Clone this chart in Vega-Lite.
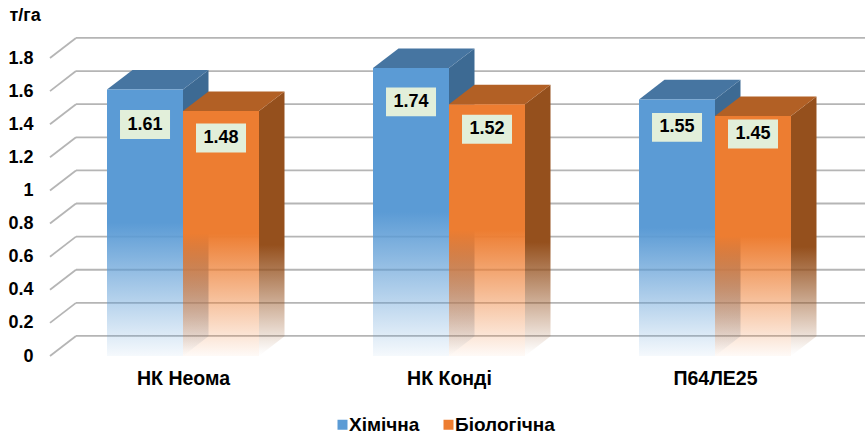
{
"$schema":"https://vega.github.io/schema/vega-lite/v6.json",
"width":865,"height":434,"autosize":"none","padding":0,"background":"white",
"config":{"view":{"stroke":null},"font":"Liberation Sans"},
"datasets":{
"bars":[
{"group":"НК Неома","series":"Хімічна","value":1.61},
{"group":"НК Неома","series":"Біологічна","value":1.48},
{"group":"НК Конді","series":"Хімічна","value":1.74},
{"group":"НК Конді","series":"Біологічна","value":1.52},
{"group":"П64ЛЕ25","series":"Хімічна","value":1.55},
{"group":"П64ЛЕ25","series":"Біологічна","value":1.45}],
"ticks":[{"t":0},{"t":0.2},{"t":0.4},{"t":0.6},{"t":0.8},{"t":1},{"t":1.2},{"t":1.4},{"t":1.6},{"t":1.8}]
},
"data":{"name":"bars"},
"transform":[
{"calculate":"indexof(['НК Неома','НК Конді','П64ЛЕ25'],datum.group)","as":"i"},
{"calculate":"datum.i+0.5+(datum.series=='Хімічна'?-0.2857:0)","as":"x0"},
{"calculate":"datum.x0+0.2857","as":"x1"},
{"calculate":"datum.x0+0.1429","as":"lx"},
{"calculate":"datum.value-[[0.212,0.163],[0.205,0.151],[0.169,0.109]][datum.i][datum.series=='Хімічна'?0:1]","as":"ly"},
{"calculate":"datum.lx-0.094","as":"bx0"},
{"calculate":"datum.lx+0.094","as":"bx1"},
{"calculate":"datum.ly-0.0875","as":"by0"},
{"calculate":"datum.ly+0.0875","as":"by1"},
{"calculate":"[0,1]","as":"t"},
{"calculate":"[datum.x0,datum.x0+0.0959,datum.x1,datum.x1+0.0959]","as":"tx"},
{"calculate":"[datum.value,datum.value,datum.value,datum.value+0.118]","as":"tlo"},
{"calculate":"[datum.value,datum.value+0.118,datum.value+0.118,datum.value+0.118]","as":"tup"}
],
"layer":[
{"data":{"name":"ticks"},"transform":[{"calculate":"datum.t+0.121","as":"gy"}],
 "mark":{"type":"rule","color":"#b5b5b5","strokeWidth":1.8},
 "encoding":{
  "x":{"datum":0.0977,"type":"quantitative","scale":{"domain":[0,3],"range":[50,848],"clamp":false},
   "axis":{"title":null,"values":[0.5,1.5,2.5],"labelExpr":"['НК Неома','НК Конді','П64ЛЕ25'][floor(datum.value)]","domain":false,"ticks":false,"grid":false,"offset":-65,"labelPadding":0,"labelFontSize":19.5,"labelFontWeight":"bold","labelColor":"#000000","labelOverlap":false,"labelFlush":false}},
  "x2":{"datum":3.07},
  "y":{"field":"gy","type":"quantitative","scale":{"domain":[0,1.8],"range":[356,58]},
   "axis":{"title":"т/га","titleAngle":0,"titleX":-24,"titleY":24,"titleAlign":"left","titleFontSize":18,"titleFontWeight":"bold","titleColor":"#000000","values":[0,0.2,0.4,0.6,0.8,1,1.2,1.4,1.6,1.8],"format":"~g","domain":false,"ticks":false,"grid":false,"offset":-33,"labelPadding":0,"labelFontSize":18,"labelFontWeight":"bold","labelColor":"#000000","labelOverlap":false,"labelFlush":false}}
 }},
{"data":{"name":"ticks"},
 "transform":[{"calculate":"datum.t+0.121","as":"gy"}],
 "mark":{"type":"rule","color":"#b5b5b5","strokeWidth":1.8},
 "encoding":{
  "x":{"datum":0,"type":"quantitative"},
  "x2":{"datum":0.0977},
  "y":{"field":"t","type":"quantitative"},
  "y2":{"field":"gy"}
 }},
{"transform":[{"filter":"datum.series=='Хімічна'"},{"flatten":["t"]},{"calculate":"datum.x1+datum.t*0.0959","as":"sx"},{"calculate":"datum.value+datum.t*0.118","as":"sy"},{"calculate":"datum.t*0.12","as":"sy0"}],
 "mark":{"type":"area","orient":"vertical","fill":{"gradient":"linear","x1":0,"y1":0,"x2":0,"y2":1,"stops":[{"offset":0,"color":"#3d6a93"},{"offset":0.58,"color":"#3d6a93"},{"offset":0.98,"color":"rgba(61,106,147,0.03)"},{"offset":1,"color":"rgba(61,106,147,0)"}]}},
 "encoding":{"x":{"field":"sx","type":"quantitative"},"y":{"field":"sy","type":"quantitative","stack":null},"y2":{"field":"sy0"},"detail":{"field":"group"}}},
{"transform":[{"filter":"datum.series=='Хімічна'"},{"flatten":["tx","tlo","tup"]}],
 "mark":{"type":"area","orient":"vertical","fill":"#4675a1"},
 "encoding":{"x":{"field":"tx","type":"quantitative"},"y":{"field":"tup","type":"quantitative","stack":null},"y2":{"field":"tlo"},"detail":{"field":"group"}}},
{"transform":[{"filter":"datum.series=='Хімічна'"}],
 "mark":{"type":"rect","fill":{"gradient":"linear","x1":0,"y1":0,"x2":0,"y2":1,"stops":[{"offset":0,"color":"#5b9bd5"},{"offset":0.5,"color":"#5b9bd5"},{"offset":1,"color":"rgba(91,155,213,0.06)"}]}},
 "encoding":{"x":{"field":"x0","type":"quantitative"},"x2":{"field":"x1"},"y":{"field":"value","type":"quantitative"},"y2":{"datum":0}}},
{"transform":[{"filter":"datum.series=='Біологічна'"},{"flatten":["t"]},{"calculate":"datum.x1+datum.t*0.0959","as":"sx"},{"calculate":"datum.value+datum.t*0.118","as":"sy"},{"calculate":"datum.t*0.12","as":"sy0"}],
 "mark":{"type":"area","orient":"vertical","fill":{"gradient":"linear","x1":0,"y1":0,"x2":0,"y2":1,"stops":[{"offset":0,"color":"#95501d"},{"offset":0.58,"color":"#95501d"},{"offset":0.98,"color":"rgba(149,80,29,0.03)"},{"offset":1,"color":"rgba(149,80,29,0)"}]}},
 "encoding":{"x":{"field":"sx","type":"quantitative"},"y":{"field":"sy","type":"quantitative","stack":null},"y2":{"field":"sy0"},"detail":{"field":"group"}}},
{"transform":[{"filter":"datum.series=='Біологічна'"},{"flatten":["tx","tlo","tup"]}],
 "mark":{"type":"area","orient":"vertical","fill":"#b26025"},
 "encoding":{"x":{"field":"tx","type":"quantitative"},"y":{"field":"tup","type":"quantitative","stack":null},"y2":{"field":"tlo"},"detail":{"field":"group"}}},
{"transform":[{"filter":"datum.series=='Біологічна'"}],
 "mark":{"type":"rect","fill":{"gradient":"linear","x1":0,"y1":0,"x2":0,"y2":1,"stops":[{"offset":0,"color":"#ed7d31"},{"offset":0.5,"color":"#ed7d31"},{"offset":1,"color":"rgba(237,125,49,0.04)"}]}},
 "encoding":{"x":{"field":"x0","type":"quantitative"},"x2":{"field":"x1"},"y":{"field":"value","type":"quantitative"},"y2":{"datum":0}}},
{"mark":{"type":"rect","opacity":0},
 "encoding":{"x":{"field":"x0","type":"quantitative"},"x2":{"field":"x1"},"y":{"field":"value","type":"quantitative"},"y2":{"datum":0},
  "color":{"field":"series","type":"nominal","scale":{"domain":["Хімічна","Біологічна"],"range":["#5b9bd5","#ed7d31"]},
   "legend":{"title":null,"orient":"none","legendX":333,"legendY":415,"direction":"horizontal","symbolType":"square","symbolSize":100,"symbolOpacity":1,"symbolStrokeWidth":0,"labelFontSize":19,"labelFontWeight":"bold","labelColor":"#000000","labelOffset":-3,"columnPadding":19,"labelLimit":200,
   "encoding":{"symbols":{"update":{"fill":{"signal":"{gradient:'linear',x1:0,y1:0,x2:0,y2:1,stops:[{offset:0,color:datum.value=='Хімічна'?'#5b9bd5':'#ed7d31'},{offset:0.6,color:datum.value=='Хімічна'?'#5b9bd5':'#ed7d31'},{offset:1,color:datum.value=='Хімічна'?'#cfe2f3':'#fad9c2'}]}"}}}}}}}},
{"mark":{"type":"rect","fill":"#e2efda"},
 "encoding":{"x":{"field":"bx0","type":"quantitative"},"x2":{"field":"bx1"},"y":{"field":"by0","type":"quantitative"},"y2":{"field":"by1"}}},
{"mark":{"type":"text","font":"Liberation Sans","fontSize":18,"fontWeight":"bold","color":"#000000","baseline":"middle","align":"center"},
 "encoding":{"x":{"field":"lx","type":"quantitative"},"y":{"field":"ly","type":"quantitative"},"text":{"field":"value","type":"quantitative","format":".2f"}}}
]
}
